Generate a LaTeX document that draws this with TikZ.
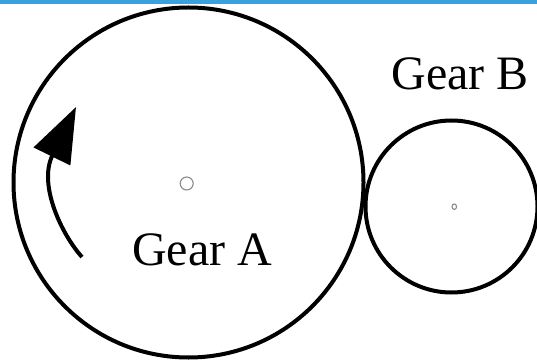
\documentclass[tikz,border=0pt]{standalone}
\usepackage{fontspec}
\setmainfont{Liberation Serif}
\usepackage{xcolor}
\usepackage{tikz}
\usetikzlibrary{arrows.meta,shapes.geometric}
\definecolor{barblue}{HTML}{3AA0DE}
\definecolor{holegray}{HTML}{8A8A8A}

\begin{document}
\begin{tikzpicture}[
    x=1pt, y=-1pt,
    gear/.style={draw=black, circle, line width=4pt, inner sep=0pt, outer sep=0pt},
    hole/.style={draw=holegray, circle, line width=1.1pt, inner sep=0pt, outer sep=0pt},
    gearlabel/.style={font=\fontsize{48}{50}\selectfont, inner sep=0pt, anchor=base},
]
\useasboundingbox (0,0) rectangle (537,363);

% ============================================================
% TOP BAR
% ============================================================
\fill[barblue] (0,0) rectangle (537,4.5);

% ============================================================
% GEAR A
% ============================================================
\node[gear, minimum size=350pt] (gearA) at (188.5,182.5) {};
\node[hole, minimum size=13pt] (holeA) at (186.7,183.5) {};
\node[gearlabel] (labelA) at (202.2,265.7) {Gear A};

% rotation arrow
\coordinate (rotstart) at (82,257);
\coordinate (rottip) at (76,107);
\draw[line width=4pt, -{Triangle[length=55pt, width=40pt]}]
    (rotstart) .. controls (62,235) and (38,185) .. (rottip);

% ============================================================
% GEAR B
% ============================================================
\node[gear, minimum size=172pt] (gearB) at (451.5,206.5) {};
\node[hole, ellipse, minimum width=4.5pt, minimum height=5.5pt] (holeB) at (454.3,206.7) {};
\node[gearlabel] (labelB) at (460,89.3) {Gear B};

\end{tikzpicture}
\end{document}
